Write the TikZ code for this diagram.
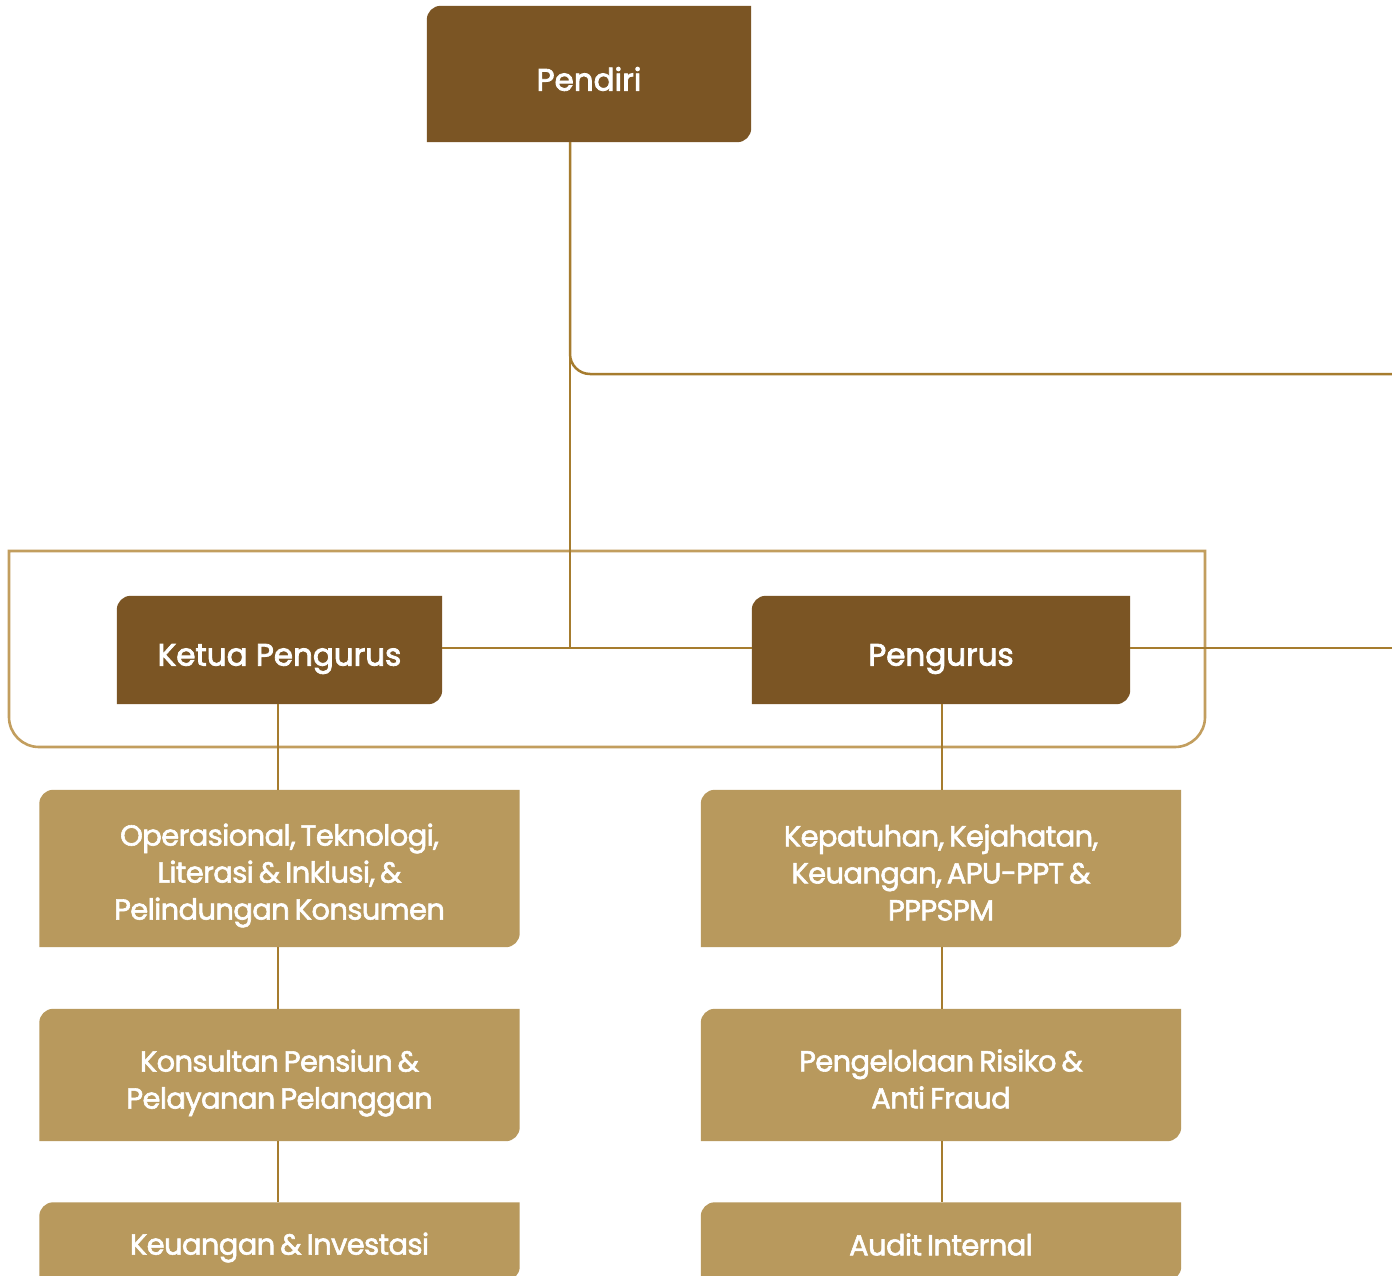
\documentclass[tikz,border=0pt]{standalone}
\usepackage{fontspec}
\setmainfont{Poppins}
\newfontfamily\hfont[FakeBold=2.6]{Poppins}
\newfontfamily\bfont[LetterSpace=-2.2,WordSpace=0.7,FakeBold=2]{Poppins}
\definecolor{dark}{HTML}{7B5524}
\definecolor{light}{HTML}{B8995D}
\definecolor{conn}{HTML}{A67C2E}
\definecolor{framec}{HTML}{C29E5E}
\newcommand\boxshape[2]{%
  \fill[#2] (#1.south west) -- ([yshift=-14pt]#1.north west)
    arc[start angle=180, end angle=90, radius=14pt] -- (#1.north east)
    -- ([yshift=14pt]#1.south east)
    arc[start angle=0, end angle=-90, radius=14pt] -- cycle;}
\begin{document}
\begin{tikzpicture}[x=1pt,y=-1pt,
  darkbox/.style={rectangle, inner sep=0pt},
  lightbox/.style={rectangle, inner sep=0pt, minimum width=480pt},
  htext/.style={text=white, font=\hfont\fontsize{31}{37}\selectfont},
  btext/.style={text=white, align=center, font=\bfont\fontsize{29}{37}\selectfont},
  connector/.style={draw=conn, line width=2.5pt},
  frameline/.style={draw=framec, line width=2.6pt}]
\useasboundingbox (0,0) rectangle (1392,1276);
\clip (0,0) rectangle (1392,1276);
\fill[white] (0,0) rectangle (1392,1276);

% frame around board
\draw[frameline] (9,551) -- (1205,551) -- (1205,717) arc (0:90:30) -- (39,747) arc (90:180:30) -- cycle;

\coordinate (j) at (570,648);
\coordinate (r1) at (1392,374);
\coordinate (r2) at (1392,648);

\node[darkbox, minimum width=324pt, minimum height=136pt] (pendiri) at (589,74) {};
\node[darkbox, minimum width=325pt, minimum height=108pt] (ketua) at (279.5,650) {};
\node[darkbox, minimum width=378pt, minimum height=108pt] (pengurus) at (941,650) {};

\node[lightbox, minimum height=157pt] (l1) at (279.5,868.5) {};
\node[lightbox, minimum height=132pt] (l2) at (279.5,1075) {};
\node[lightbox, minimum height=78pt] (l3) at (279.5,1241.5) {};
\node[lightbox, minimum height=157pt] (r1b) at (941,868.5) {};
\node[lightbox, minimum height=132pt] (r2b) at (941,1075) {};
\node[lightbox, minimum height=78pt] (r3b) at (941,1241.5) {};

\boxshape{pendiri}{dark}
\boxshape{ketua}{dark}
\boxshape{pengurus}{dark}
\boxshape{l1}{light}
\boxshape{l2}{light}
\boxshape{l3}{light}
\boxshape{r1b}{light}
\boxshape{r2b}{light}
\boxshape{r3b}{light}

\draw[connector] (pendiri.south -| j) -- (j);
\draw[connector, rounded corners=20pt] (pendiri.south -| j) |- (r1);
\draw[connector] (ketua.east |- j) -- (pengurus.west |- j);
\draw[connector] (pengurus.east |- j) -- (r2);
\draw[connector] (ketua.south -| 278,0) -- (l1.north -| 278,0);
\draw[connector] (l1.south -| 278,0) -- (l2.north -| 278,0);
\draw[connector] (l2.south -| 278,0) -- (l3.north -| 278,0);
\draw[connector] (pengurus.south -| 942,0) -- (r1b.north -| 942,0);
\draw[connector] (r1b.south -| 942,0) -- (r2b.north -| 942,0);
\draw[connector] (r2b.south -| 942,0) -- (r3b.north -| 942,0);

% texts
\node[htext] at ([yshift=-5pt]pendiri.center) {Pendiri};
\node[htext] at ([yshift=-9pt]ketua.center) {Ketua Pengurus};
\node[htext] at ([yshift=-9pt]pengurus.center) {Pengurus};

\node[btext] at ([yshift=-7pt]l1.center) {Operasional, Teknologi,\\Literasi \& Inklusi, \&\\Pelindungan Konsumen};
\node[btext] at ([yshift=-8pt]l2.center) {Konsultan Pensiun \&\\Pelayanan Pelanggan};
\node[btext] at ([yshift=-6pt]l3.center) {Keuangan \& Investasi};
\node[btext] at ([yshift=-4pt]r1b.center) {Kepatuhan, Kejahatan,\\Keuangan, APU-PPT \&\\PPPSPM};
\node[btext] at ([yshift=-4pt]r2b.center) {Pengelolaan Risiko \&\\Anti Fraud};
\node[btext] at ([yshift=-3pt]r3b.center) {Audit Internal};
\end{tikzpicture}
\end{document}
